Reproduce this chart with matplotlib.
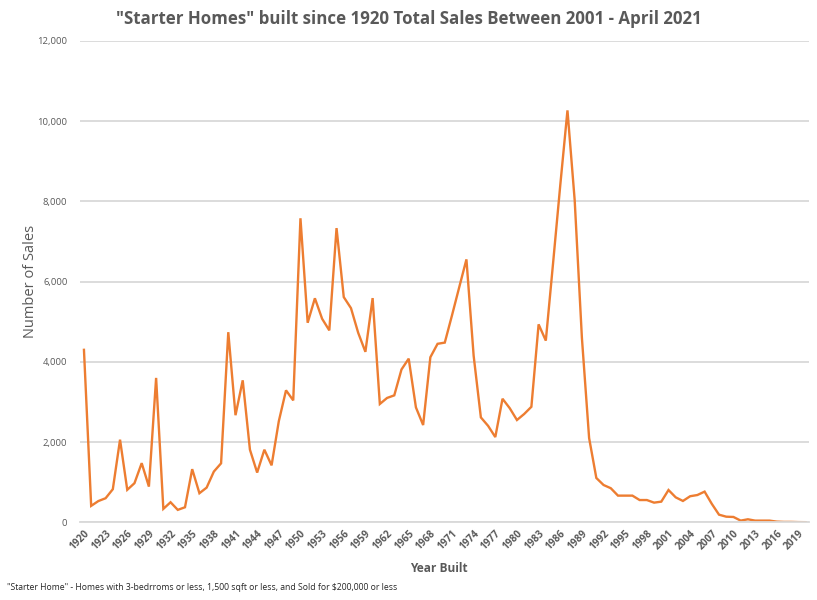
'''
starter homes sales by year built
'''

import matplotlib
matplotlib.use('Agg')
import matplotlib.pyplot as plt
from matplotlib.ticker import FuncFormatter

years = list(range(1920, 2021))
sales = [4300, 410, 530, 600, 825, 2060, 810, 975, 1475, 890,
         3600, 335, 500, 310, 375, 1325, 725, 865, 1265, 1470,
         4740, 2670, 3540, 1810, 1240, 1810, 1420, 2520, 3290, 3040,
         7580, 4975, 5585, 5075, 4785, 7335, 5615, 5340, 4725, 4250,
         5590, 2950, 3100, 3165, 3810, 4080, 2865, 2425, 4115, 4450,
         4480, 5160, 5860, 6555, 4150, 2615, 2405, 2125, 3080, 2845,
         2550, 2700, 2880, 4935, 4530, 6450, 8400, 10270, 8030, 4600,
         2100, 1105, 930, 850, 665, 665, 665, 555, 555, 490,
         515, 805, 622, 532, 650, 680, 765, 460, 190, 140,
         133, 42, 75, 42, 42, 42, 17, 10, 10, 5,
         3]
tick_years = list(range(1920, 2021, 3))

grey = '#595959'
grid = '#d9d9d9'

plt.rcParams['font.family'] = ['Open Sans', 'DejaVu Sans']

fig = plt.figure(figsize=(8.17, 6), dpi=100)
ax = fig.add_axes([0.0979, 0.1295, 0.8917, 0.8022])

ax.plot(years, sales, color='#ED7D31', lw=1.7, solid_joinstyle='miter')

ax.set_xlim(1919.45, 2020.4)
ax.set_ylim(0, 12000)
ax.set_yticks(range(0, 12001, 2000))
ax.yaxis.set_major_formatter(FuncFormatter(lambda v, p: '{:,.0f}'.format(v)))
ax.grid(axis='y', color=grid, lw=1.3)
ax.set_axisbelow(True)
for s in ['top', 'right', 'left']:
    ax.spines[s].set_visible(False)
ax.spines['bottom'].set_color(grid)
ax.spines['bottom'].set_linewidth(1.3)

ax.set_xticks(tick_years)
ax.set_xticklabels([str(y) for y in tick_years], rotation=45, ha='right',
                   rotation_mode='anchor', fontsize=7.2, fontweight='bold', color=grey)
ax.tick_params(axis='x', length=0, pad=4)
ax.tick_params(axis='y', length=0, pad=9, labelsize=6.8, labelcolor=grey)

ax.set_ylabel('Number of Sales', fontsize=10.5, color=grey)
ax.yaxis.set_label_coords(-0.058, 0.5)
fig.text(0.537, 0.053, 'Year Built', ha='center', va='center',
         fontsize=8.6, fontweight='bold', color=grey)
fig.text(0.5, 0.968, '"Starter Homes" built since 1920 Total Sales Between 2001 - April 2021',
         ha='center', va='center', fontsize=12.2, fontweight='bold', color=grey)
fig.text(0.008, 0.02, '"Starter Home" - Homes with 3-bedrroms or less, 1,500 sqft or less, and Sold for $200,000 or less',
         ha='left', va='center', fontsize=6.2, color='#262626')

plt.savefig('out.png', dpi=100)
